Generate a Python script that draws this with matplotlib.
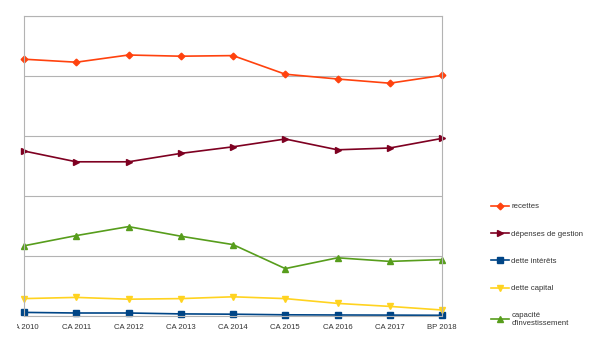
import matplotlib
matplotlib.use("Agg")
import matplotlib.pyplot as plt
from matplotlib.transforms import Bbox

plt.rcParams['font.family'] = ['Liberation Sans', 'DejaVu Sans']

categories = ["CA 2010", "CA 2011", "CA 2012", "CA 2013", "CA 2014",
              "CA 2015", "CA 2016", "CA 2017", "BP 2018"]

recettes = [4.28, 4.23, 4.35, 4.33, 4.34, 4.03, 3.95, 3.88, 4.01]
depenses_gestion = [2.75, 2.57, 2.57, 2.71, 2.82, 2.95, 2.77, 2.80, 2.96]
dette_interets = [0.06, 0.05, 0.05, 0.035, 0.03, 0.02, 0.017, 0.015, 0.012]
dette_capital = [0.29, 0.31, 0.28, 0.29, 0.32, 0.29, 0.21, 0.16, 0.10]
capacite_invest = [1.17, 1.34, 1.49, 1.33, 1.19, 0.79, 0.97, 0.91, 0.94]

series = [
    ("recettes", recettes, "#FF420E", "D"),
    ("dépenses de gestion", depenses_gestion, "#7E0021", ">"),
    ("dette intérêts", dette_interets, "#004586", "s"),
    ("dette capital", dette_capital, "#FFD320", "v"),
    ("capacité\nd'investissement", capacite_invest, "#579D1C", "^"),
]

W, H = 603, 346
fig = plt.figure(figsize=(W / 100, H / 100), dpi=100)
ax = fig.add_axes([24 / W, (H - 316) / H, 418 / W, 300 / H])

x = list(range(len(categories)))
for label, vals, color, marker in series:
    ms = 4.2 if marker != "D" else 3.4
    ax.plot(x, vals, color=color, marker=marker, markersize=ms,
            linewidth=1.2, label=label, clip_on=False)

ax.set_xlim(0, len(categories) - 1)
ax.set_ylim(0, 5)
ax.set_yticks([0, 1, 2, 3, 4, 5])
ax.set_yticklabels([])
ax.set_xticks(x)
ax.set_xticklabels(categories, fontsize=5.6, color="#333333")
ax.tick_params(axis="x", length=0, pad=6)
ax.tick_params(axis="y", length=0)
ax.grid(axis="y", color="#b3b3b3", linewidth=0.8)
ax.set_axisbelow(True)
for s in ax.spines.values():
    s.set_color("#b3b3b3")
    s.set_linewidth(0.8)

# the first category label is cut at the left, as in the source image
first = ax.get_xticklabels()[0]
first.set_clip_box(Bbox.from_extents(17, 0, W, H))
first.set_clip_on(True)

leg = fig.legend(loc="upper left", bbox_to_anchor=(491 / W, 1 - 203 / H),
                 frameon=False, fontsize=5.6, handlelength=2.3,
                 handletextpad=0.3, labelspacing=2.55, borderaxespad=0,
                 borderpad=0)
for t in leg.get_texts():
    t.set_color("#333333")

fig.savefig("out.png", dpi=100)
